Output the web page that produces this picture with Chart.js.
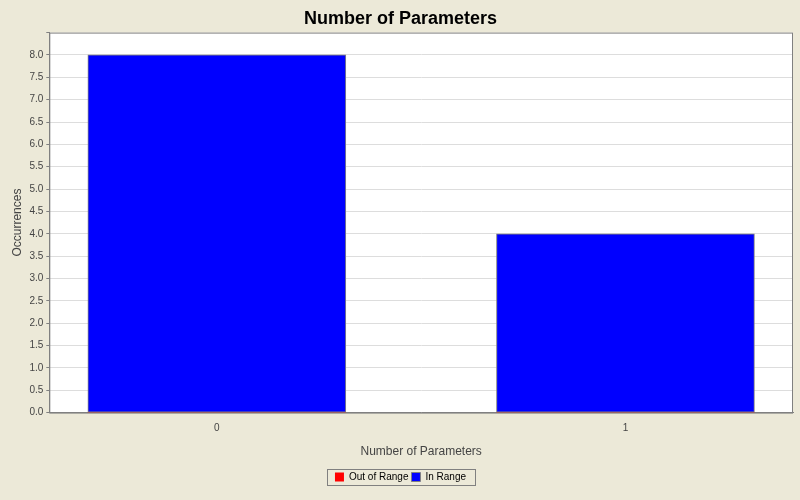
<!DOCTYPE html>
<html><head><script src="https://cdn.jsdelivr.net/npm/chart.js"></script>
<style>body{margin:0;background:#ECE9D8}</style></head>
<body><div style="width:800px;height:500px"><canvas id="c"></canvas></div>
<script>
const categories = ["0", "1"];
const outOfRange = [0, 0];
const inRange = [8, 4];
const bgPlugin = {
  id: 'bg',
  beforeDraw(chart) {
    const {ctx, chartArea: a} = chart;
    ctx.save(); ctx.fillStyle = '#fff'; ctx.fillRect(a.left, a.top, a.right - a.left, a.bottom - a.top); ctx.restore();
  },
  afterDraw(chart) {
    const {ctx, chartArea: a, legend: l} = chart;
    ctx.save(); ctx.strokeStyle = '#808080'; ctx.lineWidth = 1;
    ctx.strokeRect(a.left + 0.5, a.top + 0.5, a.right - a.left - 1, a.bottom - a.top);
    ctx.strokeRect(Math.round(l.left + l.width/2 - 74) + 0.5, l.top + 0.5, 148, 16);
    ctx.restore();
  }
};
const toPts = arr => arr.map((v, i) => ({ x: i, y: v }));
new Chart(document.getElementById('c'), {
  type: 'bar',
  data: { datasets: [
    { label: 'Out of Range', data: toPts(outOfRange), backgroundColor: '#FF0000', borderColor: '#808080', borderWidth: 0 },
    { label: 'In Range', data: toPts(inRange), backgroundColor: '#0000FF', borderColor: '#808080', borderWidth: 1, borderSkipped: false }
  ]},
  plugins: [bgPlugin],
  options: {
    responsive: true, maintainAspectRatio: false, animation: false,
    layout: { padding: { left: 8, right: 7, top: 0, bottom: 8 } },
    datasets: { bar: { barThickness: 258 } },
    plugins: {
      title: { display: true, text: 'Number of Parameters', color: '#000', font: { family: 'Liberation Sans, Arial', size: 18, weight: 'bold' }, padding: { top: 8, bottom: 3 } },
      legend: { position: 'bottom', labels: { boxWidth: 9, boxHeight: 9, padding: 3, color: '#000', font: { family: 'Liberation Sans, Arial', size: 10 } } },
      tooltip: { enabled: false }
    },
    scales: {
      x: { type: 'linear', stacked: true, min: -0.41, max: 1.41, offset: false,
        afterBuildTicks: s => { s.ticks = categories.map((c, i) => ({ value: i })); },
        grid: { display: false, drawTicks: true }, border: { color: '#808080' },
        ticks: { color: '#444', font: { family: 'Liberation Sans, Arial', size: 10 }, callback: v => categories[v] ?? '', padding: 2 },
        title: { display: true, text: 'Number of Parameters', color: '#444', font: { family: 'Liberation Sans, Arial', size: 12 }, padding: { top: 8, bottom: 10 } } },
      y: { stacked: true, min: 0, max: 8.5, grid: { color: ctx => ctx.tick && ctx.tick.value > 8 ? 'rgba(0,0,0,0)' : '#DDDDDD', tickColor: '#808080', tickLength: 3 }, border: { color: '#808080' },
        ticks: { stepSize: 0.5, color: '#444', font: { family: 'Liberation Sans, Arial', size: 10 }, callback: v => v > 8 ? '' : v.toFixed(1), padding: 3 },
        title: { display: true, text: 'Occurrences', color: '#444', font: { family: 'Liberation Sans, Arial', size: 12 }, padding: 2 } }
    }
  }
});
</script></body></html>
